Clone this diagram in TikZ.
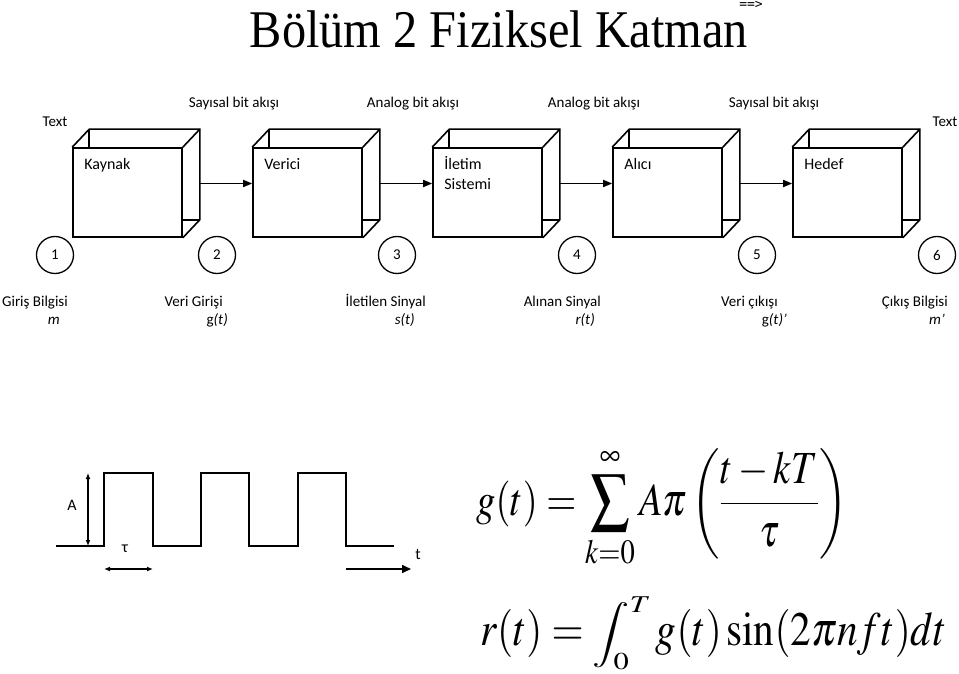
\documentclass[tikz,border=0pt]{standalone}
\usepackage{mathptmx}
\usepackage[no-math]{fontspec}
\setmainfont{Carlito}
\newfontfamily\titlefont{Liberation Serif}
\newfontfamily\smallmono{DejaVu Sans Mono}
\usetikzlibrary{arrows.meta,positioning}

\tikzset{
	cube/.style={draw, line width=1.6pt, fill=white, minimum width=109pt, minimum height=89pt, inner sep=0pt},
	edge/.style={line width=1.6pt},
	cubetext/.style={anchor=base west, inner sep=0pt, align=left, font=\fontsize{16}{20}\selectfont},
	flow/.style={line width=1.6pt, -{Triangle[length=9pt,width=7pt]}},
	stage/.style={draw, circle, line width=1.3pt, minimum size=37pt, inner sep=0pt, font=\fontsize{15}{18}\selectfont},
	small/.style={inner sep=0pt, font=\fontsize{15}{18}\selectfont},
	caption/.style={anchor=base east, inner sep=0pt, font=\fontsize{15}{18}\selectfont},
	wave/.style={line width=1.6pt},
}

\begin{document}
\begin{tikzpicture}[x=1pt, y=-1pt]
	\useasboundingbox (0,0) rectangle (959,674);

	% title
	\node[inner sep=0pt, anchor=base] (title) at (499,48) {\titlefont\fontsize{53}{60}\selectfont\scalebox{0.912}[1]{Bölüm 2 Fiziksel Katman}};
	\node[inner sep=0pt, anchor=base] (next) at (751,9) {\smallmono\fontsize{13}{15}\selectfont ==>};

	% flow labels
	\node[small, anchor=base] (t1) at (234,108) {Sayısal bit akışı};
	\node[small, anchor=base] (t2) at (413,108) {Analog bit akışı};
	\node[small, anchor=base] (t3) at (594,108) {Analog bit akışı};
	\node[small, anchor=base] (t4) at (774,108) {Sayısal bit akışı};
	\node[small, anchor=base] (txtL) at (55,127) {Text};
	\node[small, anchor=base] (txtR) at (945,127) {Text};

	% boxes
	\node[cube] (kaynak) at (127.5,192.5) {};
	\node[cube] (verici) at (307.5,192.5) {};
	\node[cube] (iletim) at (487.5,192.5) {};
	\node[cube] (alici) at (667.5,192.5) {};
	\node[cube] (hedef) at (847.5,192.5) {};

	\foreach \b in {kaynak,verici,iletim,alici,hedef} {
		\draw[edge] (\b.north west) -- ++(17,-18) coordinate (\b-tl)
			-- ([shift={(17,-18)}]\b.north east) coordinate (\b-tr)
			-- ([shift={(17,-18)}]\b.south east) coordinate (\b-br)
			-- (\b.south east);
		\draw[edge] (\b.north east) -- (\b-tr);
		\draw[edge] (\b-tl) -- ++(0,18);
		\draw[edge] (\b-br) -- ++(-17,0);
		\coordinate (\b-out) at ([shift={(17,-9)}]\b.east);
	}

	\node[cubetext] (kaynak-t) at ([shift={(12,22)}]kaynak.north west) {Kaynak};
	\node[cubetext] (verici-t) at ([shift={(12,22)}]verici.north west) {Verici};
	\node[cubetext] (iletim-t) at ([shift={(12,42)}]iletim.north west) {İletim\\Sistemi};
	\node[cubetext] (alici-t) at ([shift={(12,22)}]alici.north west) {Alıcı};
	\node[cubetext] (hedef-t) at ([shift={(12,22)}]hedef.north west) {Hedef};

	\draw[flow] (kaynak-out) -- (verici.west |- kaynak-out);
	\draw[flow] (verici-out) -- (iletim.west |- verici-out);
	\draw[flow] (iletim-out) -- (alici.west |- iletim-out);
	\draw[flow] (alici-out) -- (hedef.west |- alici-out);

	% stages
	\node[stage] (s1) at (55,255) {1};
	\node[stage] (s2) at (217,255) {2};
	\node[stage] (s3) at (397,255) {3};
	\node[stage] (s4) at (577,255) {4};
	\node[stage] (s5) at (757,255) {5};
	\node[stage] (s6) at (937,255) {6};

	\node[caption] (c1) at (68,306) {Giriş Bilgisi};
	\node[caption] (c2) at (223,306) {Veri Girişi};
	\node[caption] (c3) at (426,306) {İletilen Sinyal};
	\node[caption] (c4) at (601,306) {Alınan Sinyal};
	\node[caption] (c5) at (778,306) {Veri çıkışı};
	\node[caption] (c6) at (948,306) {Çıkış Bilgisi};

	\node[caption] (m1) at (60,324) {\textit{m}};
	\node[caption] (m2) at (228,324) {g\textit{(t)}};
	\node[caption] (m3) at (415,324) {\textit{s(t)}};
	\node[caption] (m4) at (595,324) {\textit{r(t)}};
	\node[caption] (m5) at (787,324) {g\textit{(t)’}};
	\node[caption] (m6) at (945,324) {\textit{m’}};

	% pulse train
	\draw[wave] (56,546) -- (104,546) -- (104,473) -- (153,473) -- (153,546)
		-- (201,546) -- (201,473) -- (249,473) -- (249,546)
		-- (298,546) -- (298,473) -- (346,473) -- (346,546) -- (394,546);

	\coordinate (ampTop) at (88,473);
	\coordinate (ampBot) at (88,546);
	\coordinate (tauL) at (104,569);
	\coordinate (tauR) at (153,569);
	\coordinate (timeL) at (346,569);
	\coordinate (timeR) at (411,569);
	\draw[line width=1.2pt, {Latex[length=6pt,width=5pt]}-{Latex[length=6pt,width=5pt]}] (ampTop) -- (ampBot);
	\draw[line width=1.2pt, {Latex[length=6pt,width=5pt]}-{Latex[length=6pt,width=5pt]}] (tauL) -- (tauR);
	\draw[line width=1.6pt, -{Triangle[length=9pt,width=8pt]}] (timeL) -- (timeR);
	\node[small, font=\fontsize{16}{18}\selectfont] (ampA) at (72,505) {A};
	\node[small, font=\fontsize{16}{18}\selectfont] (tau) at (125,549) {τ};
	\node[small, font=\fontsize{16}{18}\selectfont] (time) at (418,554) {t};

	% formulas
	\node[inner sep=0pt, anchor=base west] (gform) at (476,515)
		{\fontsize{46}{50}\selectfont\scalebox{0.84}[1]{$\displaystyle g(t)=\sum_{k=0}^{\infty}A\pi\left(\frac{t-kT}{\tau}\right)$}};
	\node[inner sep=0pt, anchor=base west] (rform) at (480,645)
		{\fontsize{48}{54}\selectfont\scalebox{0.86}[1]{$r(t)=\vcenter{\hbox{\scalebox{1}[0.68]{$\displaystyle\int_0^T$}}}\,g(t)\sin(2\pi nft)dt$}};
\end{tikzpicture}
\end{document}
